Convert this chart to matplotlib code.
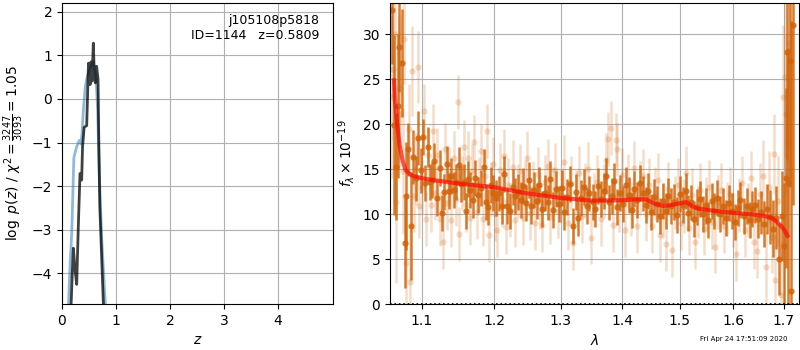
import numpy as np
import matplotlib
matplotlib.use('Agg')
import matplotlib.pyplot as plt

# p(z) curves
z_prior = [0.117, 0.15, 0.18, 0.22, 0.27, 0.32, 0.35, 0.37, 0.395, 0.43, 0.46, 0.52, 0.58,
           0.63, 0.66, 0.69, 0.735, 0.80, 0.83]
lnp_prior = [-4.8, -3.8, -3.07, -1.34, -1.1, -0.95, -1.03, -0.8, -0.27, 0.26, 0.48, 0.71, 0.86,
             0.48, -0.27, -1.7, -3.2, -4.66, -5.2]
z_fit = [0.16, 0.19, 0.21, 0.24, 0.272, 0.30, 0.333, 0.35, 0.364, 0.38, 0.41, 0.457, 0.47, 0.49,
         0.52, 0.535, 0.555, 0.58, 0.60, 0.617, 0.64, 0.667, 0.68, 0.70, 0.765, 0.78]
lnp_fit = [-5.0, -4.0, -3.42, -3.9, -4.25, -3.0, -1.71, -1.75, -1.86, -1.1, -0.65, -0.61, -0.05,
           0.82, 0.33, 0.85, 0.41, 1.28, 0.48, 0.37, 0.75, 0.45, -0.88, -2.47, -4.67, -5.2]

# spectrum, cleaner points
wave_a = [1.062, 1.064, 1.066, 1.069, 1.071, 1.074, 1.078, 1.080, 1.082, 1.086, 1.089, 1.093, 1.095,
          1.0997, 1.102, 1.105, 1.108, 1.111, 1.114, 1.117, 1.120, 1.124, 1.127, 1.130, 1.134, 1.137,
          1.140, 1.143, 1.146, 1.150, 1.153, 1.157, 1.160, 1.163, 1.166, 1.170, 1.173, 1.177, 1.181,
          1.185, 1.188, 1.192, 1.195, 1.199, 1.203, 1.207, 1.211, 1.215, 1.219, 1.223, 1.227, 1.231,
          1.235, 1.239, 1.243, 1.247, 1.251, 1.255, 1.259, 1.263, 1.267, 1.272, 1.276, 1.280, 1.284,
          1.289, 1.293, 1.297, 1.302, 1.306, 1.310, 1.315, 1.319, 1.324, 1.328, 1.333, 1.337, 1.342,
          1.346, 1.351, 1.355, 1.360, 1.364, 1.369, 1.373, 1.378, 1.383, 1.387, 1.392, 1.397, 1.401,
          1.406, 1.411, 1.416, 1.420, 1.425, 1.430, 1.435, 1.440, 1.445, 1.450, 1.455, 1.460, 1.465,
          1.470, 1.475, 1.480, 1.485, 1.490, 1.495, 1.500, 1.506, 1.511, 1.516, 1.521, 1.527, 1.532,
          1.537, 1.543, 1.548, 1.553, 1.559, 1.564, 1.570, 1.575, 1.581, 1.586, 1.592, 1.597, 1.603,
          1.609, 1.614, 1.620, 1.626, 1.632, 1.637, 1.643, 1.649, 1.655, 1.661, 1.667, 1.673, 1.679,
          1.685, 1.690, 1.696, 1.701, 1.705, 1.707, 1.710, 1.713, 1.716, 1.719]
flux_a = [32.7, 19.9, 15.3, 22.0, 28.6, 26.8, 6.8, 12.0, 17.2, 8.7, 16.4, 14.0, 18.5,
          14.9, 18.6, 13.5, 17.5, 13.6, 13.8, 15.9, 11.8, 15.1, 10.1, 12.5, 15.6, 12.6,
          14.2, 12.7, 13.6, 15.5, 13.4, 13.6, 10.4, 13.9, 12.7, 11.6, 14.0, 12.1, 12.9,
          15.3, 11.4, 10.8, 13.2, 12.4, 11.8, 12.3, 10.9, 14.5, 10.9, 10.4, 13.0, 12.0,
          12.5, 11.6, 13.1, 11.2, 13.8, 10.9, 12.7, 11.5, 13.3, 10.6, 12.4, 11.3, 13.9,
          10.5, 12.8, 11.1, 12.9, 10.2, 11.9, 13.4, 8.7, 12.5, 9.6, 11.8, 13.0, 10.9,
          12.3, 11.4, 10.6, 13.1, 11.7, 12.6, 14.2, 11.3, 12.0, 13.7, 10.8, 12.4, 11.1,
          13.3, 12.1, 10.5, 12.8, 11.6, 13.5, 12.3, 11.0, 12.6, 10.2, 11.9, 11.1, 9.8,
          11.5, 10.3, 12.0, 10.9, 11.4, 9.9, 12.2, 11.0, 12.6, 10.1, 11.3, 9.5, 10.8,
          11.7, 10.0, 10.9, 9.4, 11.5, 10.3, 11.8, 10.0, 10.9, 9.6, 11.2, 10.4, 9.1,
          10.7, 11.6, 9.8, 10.9, 9.3, 10.6, 11.0, 9.5, 10.2, 8.9, 10.6, 9.7, 8.4,
          9.6, 5.0, 9.8, 6.5, 14.0, 28.0, 13.5, 27.0, 1.5, 31.0]
err_a = [6, 10, 6, 8, 5, 6, 5, 6, 3, 6, 3, 2.5, 3,
         2.5, 2, 2, 2.2, 2, 2, 2, 2, 2, 2, 2, 2, 2,
         2, 2, 2, 2, 2, 2, 2, 2, 2, 2, 2, 2, 2,
         2, 2, 2, 2, 2, 2, 2, 2, 2, 2, 2, 2, 2,
         2, 2, 2, 2, 2, 2, 2, 2, 2, 2, 2, 2, 2,
         2, 2, 2, 2, 2, 2, 2, 2, 2, 2, 2, 2, 2,
         2, 2, 2, 2, 2, 2, 2, 2, 2, 2, 2, 2, 2,
         2, 2, 2, 2, 2, 2, 2, 2, 2, 2, 2, 2, 2,
         2, 2, 2, 2, 2, 2, 2, 2, 2, 2, 2, 2, 2,
         2, 2, 2, 2, 2, 2, 2, 2, 2, 2, 2, 2, 2,
         2, 2, 2, 2, 2, 2, 2, 2.2, 2.4, 2.6, 2.8, 3, 3.2,
         3.5, 4, 5, 7, 10, 12, 15, 14, 30, 20]

# spectrum, noisier points
wave_b = [1.061, 1.063, 1.065, 1.067, 1.070, 1.072, 1.075, 1.077, 1.080, 1.083, 1.085, 1.087, 1.090,
          1.092, 1.095, 1.097, 1.100, 1.103, 1.106, 1.109, 1.112, 1.115, 1.118, 1.121, 1.124, 1.128,
          1.131, 1.134, 1.137, 1.140, 1.143, 1.146, 1.149, 1.151, 1.154, 1.157, 1.160, 1.163, 1.166,
          1.169, 1.172, 1.175, 1.178, 1.181, 1.184, 1.187, 1.190, 1.193, 1.196, 1.199, 1.202, 1.205,
          1.208, 1.211, 1.214, 1.217, 1.221, 1.224, 1.228, 1.231, 1.235, 1.238, 1.242, 1.246, 1.249,
          1.253, 1.257, 1.261, 1.265, 1.268, 1.272, 1.276, 1.280, 1.284, 1.288, 1.292, 1.296, 1.300,
          1.306, 1.311, 1.316, 1.320, 1.325, 1.329, 1.334, 1.339, 1.344, 1.349, 1.354, 1.359, 1.364,
          1.369, 1.373, 1.377, 1.381, 1.385, 1.389, 1.391, 1.395, 1.400, 1.405, 1.410, 1.415, 1.420,
          1.425, 1.430, 1.435, 1.440, 1.446, 1.451, 1.456, 1.461, 1.466, 1.470, 1.475, 1.480, 1.487,
          1.492, 1.497, 1.502, 1.508, 1.511, 1.517, 1.522, 1.528, 1.533, 1.538, 1.544, 1.549, 1.555,
          1.560, 1.566, 1.571, 1.577, 1.582, 1.588, 1.594, 1.600, 1.606, 1.612, 1.617, 1.623, 1.629,
          1.635, 1.641, 1.647, 1.653, 1.659, 1.665, 1.671, 1.676, 1.681, 1.683, 1.688, 1.695, 1.699,
          1.702, 1.704, 1.708, 1.712]
flux_b = [23.0, 26.2, 30.0, 11.3, 24.0, 21.2, 14.8, 29.5, 4.6, 19.5, 2.4, 25.9, 12.0,
          15.0, 26.4, 10.9, 13.0, 21.5, 9.5, 16.6, 11.0, 19.3, 12.3, 16.6, 9.5, 6.9,
          17.2, 11.2, 14.5, 9.4, 16.3, 11.7, 22.5, 7.8, 13.5, 17.5, 11.0, 16.2, 9.6,
          14.8, 18.0, 10.2, 13.4, 17.0, 9.5, 14.2, 19.3, 7.7, 12.8, 15.6, 10.0, 8.2,
          14.9, 11.6, 16.5, 8.6, 13.2, 10.5, 15.3, 9.4, 12.6, 14.8, 9.6, 13.0, 16.2,
          10.1, 12.9, 9.0, 14.5, 11.4, 8.8, 13.6, 15.4, 9.7, 12.2, 14.9, 10.3, 12.0,
          15.8, 9.0, 13.5, 6.8, 11.9, 14.6, 9.8, 12.7, 15.0, 7.4, 11.6, 13.6, 9.5,
          12.6, 16.0, 18.4, 19.6, 8.8, 18.3, 17.2, 11.0, 14.4, 8.2, 13.7, 10.6, 15.1,
          8.7, 12.9, 14.3, 10.0, 13.3, 8.7, 12.3, 13.8, 7.7, 10.4, 6.7, 12.8, 6.0,
          11.3, 13.2, 9.0, 10.9, 14.6, 8.5, 12.1, 6.9, 10.3, 12.7, 8.4, 11.1, 13.0,
          9.1, 6.4, 11.4, 12.7, 8.7, 10.6, 12.2, 9.3, 5.6, 11.0, 13.5, 8.2, 10.5,
          14.0, 6.9, 5.9, 12.2, 14.2, 4.1, 13.0, 7.5, 16.7, 2.7, 11.5, 1.0, 23.0,
          25.3, 21.1, 18.0, 29.0]
err_b = [9, 8, 7, 9, 8, 6, 7, 5, 6, 5, 6, 5, 4,
         4, 4, 3.5, 3, 3, 3, 3, 3, 3, 3, 3, 3, 3,
         3, 3, 3, 3, 3, 3, 3, 3, 3, 3, 3, 3, 3,
         3, 3, 3, 3, 3, 3, 3, 3, 3, 3, 3, 3, 3,
         3, 3, 3, 3, 3, 3, 3, 3, 3, 3, 3, 3, 3,
         3, 3, 3, 3, 3, 3, 3, 3, 3, 3, 3, 3, 3,
         3, 3, 3, 3, 3, 3, 3, 3, 3, 3, 3, 3, 3,
         3, 3, 3, 3, 3, 3, 3, 3, 3, 3, 3, 3, 3,
         3, 3, 3, 3, 3, 3, 3, 3, 3, 3, 3, 3, 3,
         3, 3, 3, 3, 3, 3, 3, 3, 3, 3, 3, 3, 3,
         3, 3, 3, 3, 3, 3, 3, 3, 3, 3, 3, 3, 3,
         3, 3, 3, 3.5, 4, 4, 4, 4, 4.5, 5, 5, 6, 8,
         9, 9, 10, 12]

# best-fit model
wave_m = [1.064, 1.065, 1.068, 1.071, 1.075, 1.079, 1.087, 1.100, 1.115, 1.150, 1.200, 1.250, 1.300,
          1.350, 1.400, 1.420, 1.440, 1.455, 1.470, 1.485, 1.500, 1.512, 1.522, 1.535, 1.560, 1.600,
          1.640, 1.660, 1.675, 1.685, 1.695, 1.702, 1.708]
flux_m = [24.9, 23.0, 20.1, 17.8, 16.0, 14.9, 14.3, 14.0, 13.8, 13.4, 13.0, 12.3, 11.8,
          11.5, 11.55, 11.65, 11.65, 11.2, 10.9, 11.0, 11.2, 11.35, 10.9, 10.6, 10.4, 10.15,
          9.95, 9.8, 9.6, 9.2, 8.7, 8.2, 7.6]

orange = '#d2640a'

fig = plt.figure(figsize=(8, 3.5), dpi=100)

# left: redshift probability
ax1 = fig.add_axes([0.0775, 0.1314, 0.339, 0.86])
ax1.plot(z_prior, lnp_prior, color='#1f77b4', alpha=0.5, lw=2)
ax1.plot(z_fit, lnp_fit, color='k', alpha=0.75, lw=2)
ax1.set_xlim(0, 5.02)
ax1.set_ylim(-4.7, 2.2)
ax1.set_xticks([0, 1, 2, 3, 4])
ax1.set_yticks([-4, -3, -2, -1, 0, 1, 2])
ax1.grid(True)
ax1.set_xlabel(r'$z$')
ax1.set_ylabel(r'$\log\ p(z)$ / $\chi^2=\frac{3247}{3093}=1.05$')
ax1.text(0.95, 0.965, 'j105108p5818\nID=1144   z=0.5809', transform=ax1.transAxes,
         ha='right', va='top', fontsize=9)

# right: spectrum
ax2 = fig.add_axes([0.4875, 0.1314, 0.5115, 0.86])
ax2.errorbar(wave_b, flux_b, yerr=err_b, marker='o', ms=4.5, ls='none', color=orange,
             alpha=0.22, elinewidth=1.8, mec='none')
ax2.errorbar(wave_a, flux_a, yerr=err_a, marker='o', ms=4.5, ls='none', color=orange,
             alpha=0.85, elinewidth=1.8, mec='none')
ax2.plot(wave_m, flux_m, color='r', alpha=0.65, lw=3, zorder=5)
ax2.axhline(0, color='k', ls=':', lw=1.2)
ax2.set_xscale('log')
ax2.set_xlim(1.0589, 1.7322)
ax2.set_ylim(0, 33.5)
ax2.set_xticks([1.1, 1.2, 1.3, 1.4, 1.5, 1.6, 1.7])
ax2.set_xticklabels(['1.1', '1.2', '1.3', '1.4', '1.5', '1.6', '1.7'])
ax2.xaxis.set_minor_locator(matplotlib.ticker.NullLocator())
ax2.set_yticks([0, 5, 10, 15, 20, 25, 30])
ax2.grid(True)
ax2.set_xlabel(r'$\lambda$')
ax2.set_ylabel(r'$f_\lambda\times10^{-19}$')

fig.text(0.985, 0.022, 'Fri Apr 24 17:51:09 2020', ha='right', va='bottom', fontsize=5)

fig.savefig('out.png', dpi=100)
